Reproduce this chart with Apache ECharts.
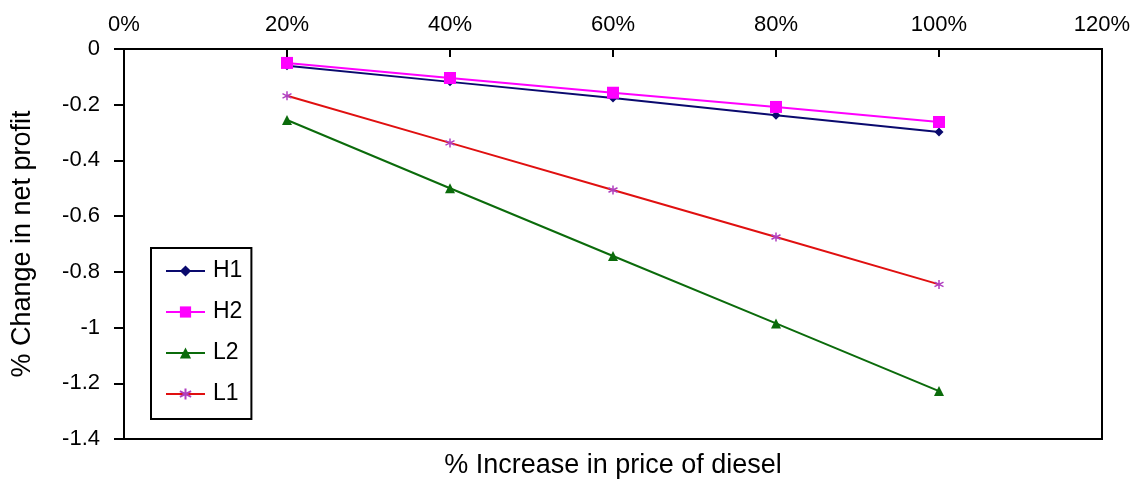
<!DOCTYPE html>
<html>
<head>
<meta charset="utf-8">
<script src="https://cdn.jsdelivr.net/npm/echarts@6/dist/echarts.min.js"></script>
<style>
  html, body { margin: 0; padding: 0; background: #fff; }
  #chart { width: 1145px; height: 484px; }
</style>
</head>
<body>
<div id="chart"></div>
<script>
// Diesel price increase (%) and resulting change in net profit (%)
const priceIncrease = [20, 40, 60, 80, 100];
const seriesNames = ['H1', 'H2', 'L2', 'L1'];
const h1 = [-0.06, -0.118, -0.176, -0.238, -0.298];
const h2 = [-0.05, -0.104, -0.157, -0.208, -0.262];
const l2 = [-0.255, -0.5, -0.743, -0.985, -1.228];
const l1 = [-0.168, -0.337, -0.506, -0.675, -0.845];

const FONT = 'Liberation Sans, Arial, sans-serif';
const pairs = (ys) => priceIncrease.map((x, i) => [x, ys[i]]);

// asterisk-like marker used for L1
const starPath = 'path://M0,-10L0,10M-8.7,-5L8.7,5M-8.7,5L8.7,-5';

const chart = echarts.init(document.getElementById('chart'));
chart.setOption({
  backgroundColor: '#fff',
  animation: false,
  grid: {
    left: 124, top: 49, right: 43, bottom: 45,
    show: true, borderColor: '#000', borderWidth: 2, backgroundColor: 'transparent'
  },
  legend: {
    orient: 'vertical',
    left: 151, top: 248,
    data: seriesNames,
    itemWidth: 39, itemHeight: 14, itemGap: 17,
    padding: [11, 9, 13, 14],
    borderColor: '#000', borderWidth: 2,
    textStyle: { fontFamily: FONT, fontSize: 23, lineHeight: 24, color: '#000', padding: [0, 0, 0, 3] }
  },
  xAxis: {
    type: 'value', position: 'top',
    min: 0, max: 120, interval: 20,
    name: '% Increase in price of diesel',
    nameLocation: 'middle', nameGap: -430,
    nameTextStyle: { fontFamily: FONT, fontSize: 27, color: '#000' },
    axisLine: { show: true, lineStyle: { color: '#000', width: 2 } },
    axisTick: { show: true, inside: true, length: 8, lineStyle: { color: '#000', width: 2 } },
    axisLabel: { formatter: '{value}%', margin: 13, fontFamily: FONT, fontSize: 22, color: '#000' },
    splitLine: { show: false }
  },
  yAxis: {
    type: 'value',
    min: -1.4, max: 0, interval: 0.2,
    name: '% Change in net profit',
    nameLocation: 'middle', nameGap: 88,
    nameTextStyle: { fontFamily: FONT, fontSize: 27, color: '#000' },
    axisLine: { show: true, lineStyle: { color: '#000', width: 2 } },
    axisTick: { show: true, length: 10, lineStyle: { color: '#000', width: 2 } },
    axisLabel: {
      margin: 24, fontFamily: FONT, fontSize: 22, color: '#000', padding: [5, 0, 0, 0],
      formatter: (v) => String(Math.round(v * 10) / 10)
    },
    splitLine: { show: false }
  },
  series: [
    {
      name: 'H1', type: 'line', data: pairs(h1),
      symbol: 'diamond', symbolSize: 9,
      lineStyle: { color: '#0A0A6E', width: 2 },
      itemStyle: { color: '#0A0A6E' }
    },
    {
      name: 'H2', type: 'line', data: pairs(h2),
      symbol: 'rect', symbolSize: 12,
      lineStyle: { color: '#FF00FF', width: 2 },
      itemStyle: { color: '#FF00FF' }
    },
    {
      name: 'L2', type: 'line', data: pairs(l2),
      symbol: 'triangle', symbolSize: 10,
      lineStyle: { color: '#0B6B0B', width: 2 },
      itemStyle: { color: '#0B6B0B' }
    },
    {
      name: 'L1', type: 'line', data: pairs(l1),
      symbol: starPath, symbolSize: 9,
      lineStyle: { color: '#E01010', width: 2 },
      itemStyle: { color: 'transparent', borderColor: '#B040C0', borderWidth: 1.5 }
    }
  ]
});
</script>
</body>
</html>
